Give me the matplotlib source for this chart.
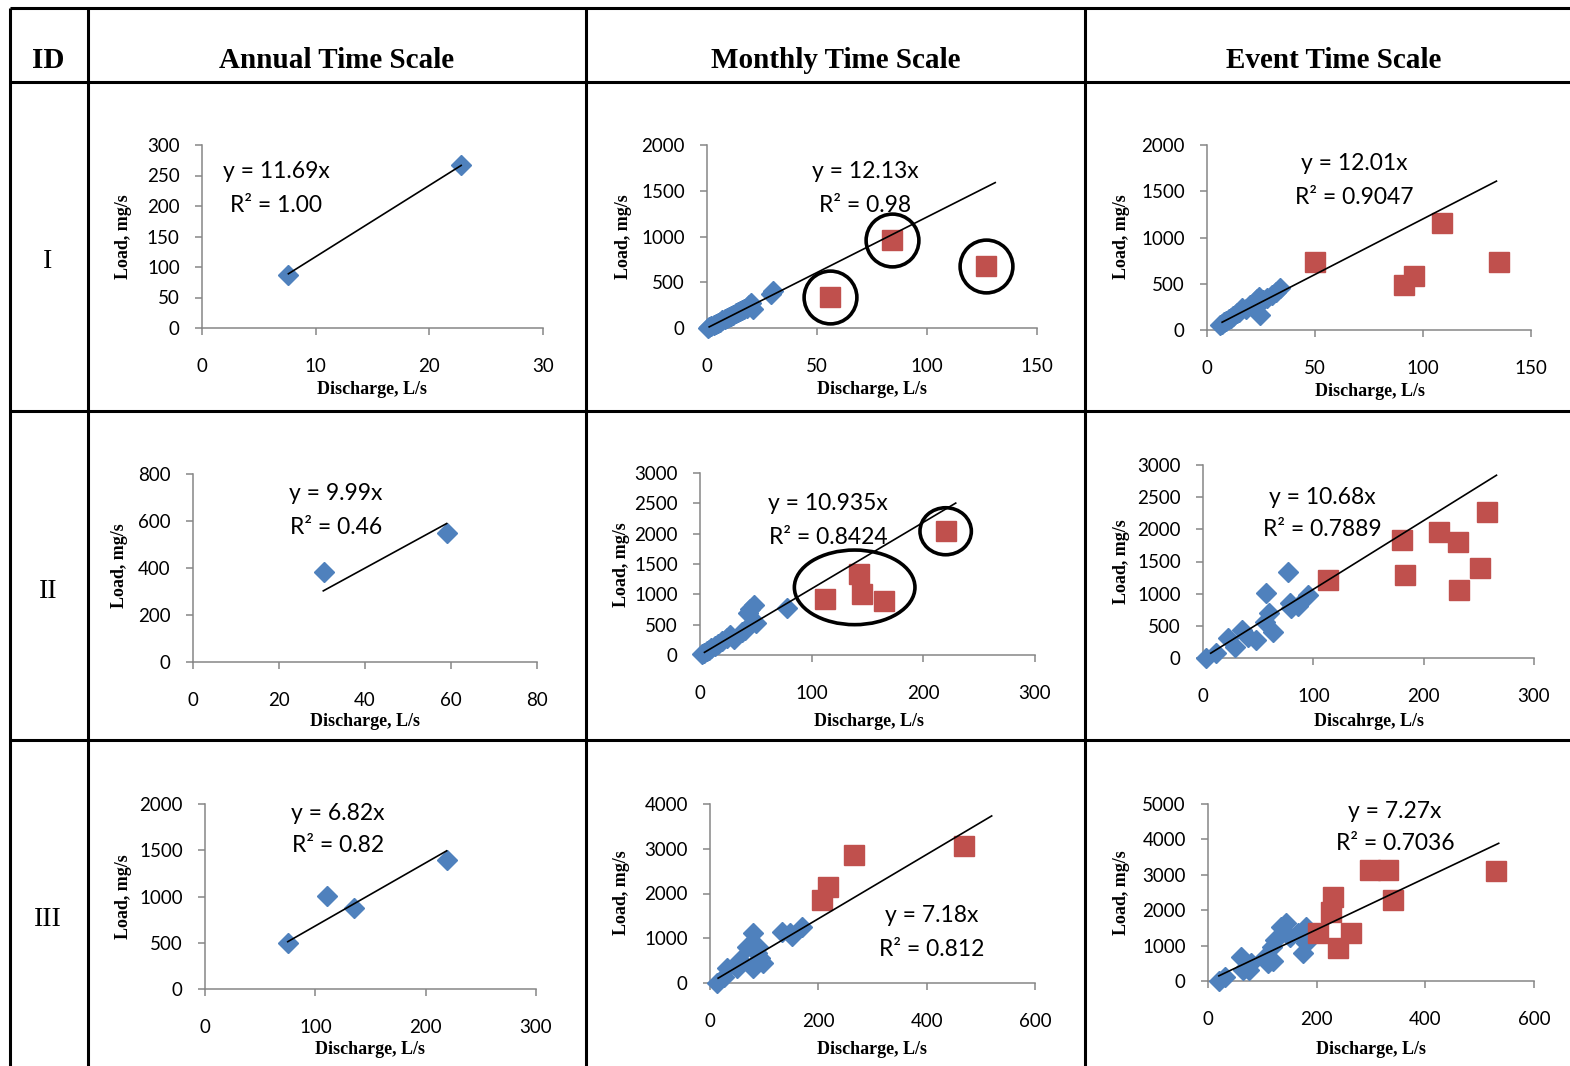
import matplotlib.pyplot as plt
from matplotlib.patches import Ellipse
import numpy as np

W, H = 1570, 1066

# ---- data ----
# Annual time scale
annual_I_q = [7.6, 22.8]
annual_I_load = [87, 267]
annual_II_q = [30.5, 59]
annual_II_load = [383, 550]
annual_III_q = [75, 111, 135, 219]
annual_III_load = [495, 1005, 880, 1390]

# Monthly time scale
monthly_I_q = [0.5, 1, 2, 3, 4, 5, 6, 7, 8, 9, 10, 11, 12, 13, 14, 15, 16, 17, 18, 19, 20, 21, 29, 30]
monthly_I_load = [5, 10, 25, 35, 45, 60, 70, 85, 95, 110, 120, 135, 145, 160, 170, 190, 200, 210, 215, 250, 270, 210, 370, 400]
monthly_I_out_q = [56, 84, 127]
monthly_I_out_load = [340, 960, 680]

monthly_II_q = [2, 4, 6, 8, 10, 13, 16, 20, 24, 27, 30, 38, 40, 43, 45, 48, 50, 78]
monthly_II_load = [10, 30, 60, 90, 120, 150, 180, 230, 280, 330, 260, 380, 420, 700, 760, 820, 520, 770]
monthly_II_out_q = [112, 142, 145, 165, 220]
monthly_II_out_load = [930, 1340, 1010, 890, 2040]

monthly_III_q = [12, 25, 31, 49, 55, 68, 80, 80, 86, 89, 92, 98, 132, 148, 151, 169]
monthly_III_load = [0, 141, 328, 340, 514, 811, 1110, 328, 670, 811, 551, 440, 1147, 1110, 1040, 1259]
monthly_III_out_q = [207, 217, 265, 469]
monthly_III_out_load = [1855, 2152, 2860, 3068]

# Event time scale
event_I_q = [6, 7, 8, 9, 10, 11, 12, 14, 15, 16, 18, 20, 22, 23, 24, 24.5, 26, 28, 30, 32, 34]
event_I_load = [50, 70, 90, 100, 120, 130, 150, 180, 200, 240, 230, 270, 300, 330, 360, 160, 320, 350, 380, 410, 450]
event_I_out_q = [50, 91, 96, 109, 135]
event_I_out_load = [740, 490, 580, 1160, 730]

event_II_q = [3, 12, 23, 29, 35, 41, 48, 56, 57, 63, 60, 77, 79, 80, 86, 95]
event_II_load = [0, 73, 306, 176, 435, 331, 280, 564, 1005, 409, 695, 1342, 850, 780, 813, 979]
event_II_out_q = [113, 180, 183, 214, 231, 232, 251, 257]
event_II_out_load = [1212, 1834, 1290, 1963, 1808, 1057, 1394, 2274]

event_III_q = [21, 31, 61, 64, 76, 80, 104, 110, 117, 120, 123, 135, 144, 150, 166, 175, 181, 187, 181]
event_III_load = [0, 122, 687, 311, 300, 500, 687, 500, 969, 560, 1158, 1534, 1630, 1251, 1347, 782, 1065, 1393, 1534]
event_III_out_q = [202, 226, 230, 239, 263, 298, 331, 340, 530]
event_III_out_load = [1356, 1950, 2373, 932, 1356, 3136, 3136, 2288, 3100]

# trend lines: slope, x range
slopes = [[11.69, 12.13, 12.01], [9.99, 10.935, 10.68], [6.82, 7.18, 7.27]]
trend_ranges = [[(7.6, 22.8), (1, 131), (7, 134)],
                [(30.3, 59), (4, 229), (7, 266)],
                [(75, 219), (15, 520), (20, 535)]]
eq_texts = [[("y = 11.69x", "R² = 1.00"), ("y = 12.13x", "R² = 0.98"), ("y = 12.01x", "R² = 0.9047")],
            [("y = 9.99x", "R² = 0.46"), ("y = 10.935x", "R² = 0.8424"), ("y = 10.68x", "R² = 0.7889")],
            [("y = 6.82x", "R² = 0.82"), ("y = 7.18x", "R² = 0.812"), ("y = 7.27x", "R² = 0.7036")]]

col_headers = ["ID", "Annual Time Scale", "Monthly Time Scale", "Event Time Scale"]
row_ids = ["I", "II", "III"]
x_titles = [["Discharge, L/s"] * 3,
            ["Discharge, L/s", "Discharge, L/s", "Discahrge, L/s"],
            ["Discharge, L/s"] * 3]

# axis ranges (xmax, xstep, ymax, ystep)
limits = [[(30, 10, 300, 50), (150, 50, 2000, 500), (150, 50, 2000, 500)],
          [(80, 20, 800, 200), (300, 100, 3000, 500), (300, 100, 3000, 500)],
          [(300, 100, 2000, 500), (600, 200, 4000, 1000), (600, 200, 5000, 1000)]]

series = [[(annual_I_q, annual_I_load, None, None),
           (monthly_I_q, monthly_I_load, monthly_I_out_q, monthly_I_out_load),
           (event_I_q, event_I_load, event_I_out_q, event_I_out_load)],
          [(annual_II_q, annual_II_load, None, None),
           (monthly_II_q, monthly_II_load, monthly_II_out_q, monthly_II_out_load),
           (event_II_q, event_II_load, event_II_out_q, event_II_out_load)],
          [(annual_III_q, annual_III_load, None, None),
           (monthly_III_q, monthly_III_load, monthly_III_out_q, monthly_III_out_load),
           (event_III_q, event_III_load, event_III_out_q, event_III_out_load)]]

# ---- layout (pixels) ----
# axes box: left (y axis), right, top, bottom (x axis)
boxes = [[(202, 543, 145, 328), (707, 1037, 145, 328), (1207, 1531, 145, 330)],
         [(193, 537, 474, 662), (700, 1035, 473, 655), (1203, 1534, 465, 658)],
         [(205, 536, 804, 989), (710, 1035, 804, 983), (1208, 1534, 804, 981)]]
eq_pos = [[(276, 172), (865, 172), (1354, 164)],
          [(336, 494), (828, 504), (1322, 497)],
          [(338, 813), (932, 916), (1395, 811)]]
xlab_pos = [[(372, 390), (872, 390), (1370, 392)],
            [(365, 721), (869, 721), (1369, 721)],
            [(370, 1049), (872, 1049), (1371, 1050)]]
ylab_pos = [[(123, 237), (623, 237), (1121, 237)],
            [(119, 566), (622, 565), (1121, 562)],
            [(123, 897), (622, 893), (1121, 893)]]

BLUE = "#4F81BD"
RED = "#C0504D"
GRAY = "#868686"
SANS = "Lato"
SERIF = "Liberation Serif"

fig = plt.figure(figsize=(W / 100, H / 100), dpi=100)
bg = fig.add_axes([0, 0, 1, 1])
bg.set_xlim(0, W)
bg.set_ylim(H, 0)
bg.axis("off")

# table grid
lw_tab = 2.2
for x in [10, 88, 586, 1085]:
    bg.plot([x, x], [8, H], color="black", lw=lw_tab, solid_capstyle="butt")
for y in [8, 82, 411, 740]:
    bg.plot([10, W], [y, y], color="black", lw=lw_tab, solid_capstyle="butt")

header_x = [48, 337, 836, 1334]
for hx, txt in zip(header_x, col_headers):
    bg.text(hx, 60, txt, family=SERIF, weight="bold", fontsize=21, ha="center", va="center")
for ry, txt in zip([261, 591, 919], row_ids):
    bg.text(48, ry, txt, family=SERIF, fontsize=20, ha="center", va="center")

for i in range(3):
    for j in range(3):
        l, r, t, b = boxes[i][j]
        ax = fig.add_axes([l / W, 1 - b / H, (r - l) / W, (b - t) / H])
        xmax, xstep, ymax, ystep = limits[i][j]
        ax.set_xlim(0, xmax)
        ax.set_ylim(0, ymax)
        ax.set_xticks(np.arange(0, xmax + 1, xstep))
        ax.set_yticks(np.arange(0, ymax + 1, ystep))
        ax.patch.set_alpha(0)
        for s in ["top", "right"]:
            ax.spines[s].set_visible(False)
        for s in ["left", "bottom"]:
            ax.spines[s].set_color(GRAY)
            ax.spines[s].set_linewidth(1.1)
        ax.tick_params(direction="out", length=5, width=1.1, color=GRAY, labelsize=13.5)
        ax.tick_params(axis="x", pad=16.5)
        ax.tick_params(axis="y", pad=11)
        for lab in ax.get_xticklabels() + ax.get_yticklabels():
            lab.set_family(SANS)

        q, load, oq, oload = series[i][j]
        ax.plot(q, load, linestyle="none", marker="D", markersize=10.5,
                color=BLUE, clip_on=False, zorder=3)
        if oq is not None:
            ax.plot(oq, oload, linestyle="none", marker="s", markersize=14.5,
                    color=RED, clip_on=False, zorder=3)

        x0, x1 = trend_ranges[i][j]
        tx = np.array([x0, x1])
        ax.plot(tx, slopes[i][j] * tx, color="black", lw=1.2, zorder=4, clip_on=False)

        ex, ey = eq_pos[i][j]
        line1, line2 = eq_texts[i][j]
        bg.text(ex, ey, line1, family=SANS, fontsize=16.5, ha="center", va="center", zorder=10)
        bg.text(ex, ey + 33, line2, family=SANS, fontsize=16.5, ha="center", va="center", zorder=10)

        xl, yl = xlab_pos[i][j]
        bg.text(xl, yl, x_titles[i][j], family=SERIF, weight="bold", fontsize=13,
                ha="center", va="center")
        xl, yl = ylab_pos[i][j]
        bg.text(xl, yl, "Load, mg/s", family=SERIF, weight="bold", fontsize=13,
                ha="center", va="center", rotation=90)

        # highlighted outliers
        if i == 0 and j == 1:
            ax.plot(oq, oload, linestyle="none", marker="o", markersize=38,
                    markerfacecolor="none", markeredgecolor="black",
                    markeredgewidth=2.6, clip_on=False, zorder=5)
        if i == 1 and j == 1:
            groups = [(oq[:4], oload[:4], 55, 780), (oq[4:], oload[4:], 46, 775)]
            for gq, gl, pad_q, pad_l in groups:
                cx = (min(gq) + max(gq)) / 2
                cy = (min(gl) + max(gl)) / 2
                w = max(gq) - min(gq) + pad_q
                h = max(gl) - min(gl) + pad_l
                ax.add_patch(Ellipse((cx, cy), w, h, fill=False, edgecolor="black",
                                     lw=2.6, clip_on=False, zorder=5))

fig.savefig("out.png", dpi=100)
